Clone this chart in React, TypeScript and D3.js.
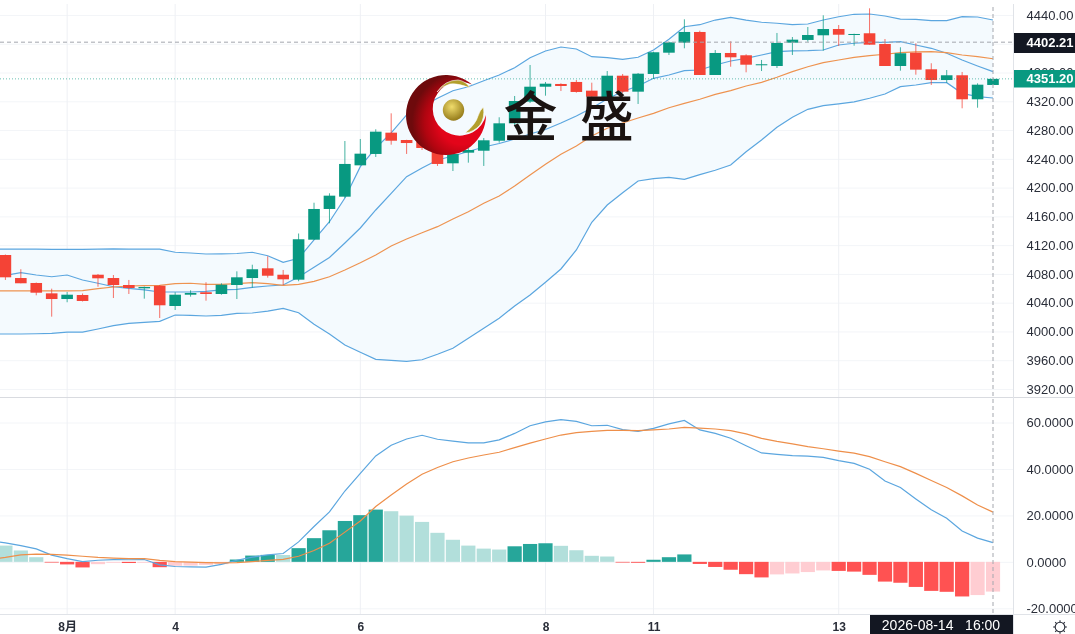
import { useEffect, useRef } from "react";
import * as d3 from "d3";

// first entry of every series is one bar left of the visible window
const opens = [4112,
  4106.3, 4074.3, 4067.4, 4053, 4045.1, 4050.7, 4078.9, 4074.3, 4064.6, 4060,
  4063.6, 4035.4, 4051.1, 4054.5, 4052.1, 4064.6, 4074.3, 4087.8, 4078.9, 4072,
  4127.6, 4170.3, 4187.4, 4231, 4246.8, 4276.4, 4266.2, 4263.4, 4251, 4233.8,
  4248.6, 4251.3, 4265.2, 4289.4, 4319.5, 4340.3, 4344.1, 4346.9, 4334.8, 4324.6,
  4355.6, 4333.4, 4358, 4387.6, 4401.5, 4416.4, 4356.6, 4387.2, 4384, 4370.1,
  4369.1, 4401.5, 4405.3, 4411.8, 4420.5, 4412.6, 4414.6, 4399.7, 4369.1, 4387.6,
  4364.5, 4349.6, 4356.2, 4322.8, 4342.7];
const closes = [4107,
  4075.3, 4067, 4053.9, 4045.1, 4051.1, 4042.4, 4073.9, 4064.6, 4060.4, 4061.8,
  4036.4, 4051.1, 4053.5, 4052.1, 4065, 4075.3, 4086.5, 4077.5, 4072.5, 4128.2,
  4170.3, 4188.8, 4232.9, 4247.2, 4277.8, 4265.2, 4262, 4255.1, 4232.9, 4246.8,
  4252.3, 4265.8, 4289.4, 4320.4, 4340.3, 4344.5, 4341.3, 4333, 4326.4, 4355.6,
  4333.4, 4358.4, 4388.2, 4402, 4416.4, 4356.6, 4387.2, 4381.2, 4370.9, 4371.5,
  4401.1, 4405.7, 4412.2, 4420.5, 4412.6, 4413.6, 4398.7, 4369.1, 4386.8, 4364,
  4349.6, 4356.2, 4322.8, 4343.1, 4351.2];
const highs = [4113,
  4107, 4086.5, 4068, 4059.5, 4054.9, 4052.8, 4079.9, 4078.5, 4071.6, 4062.5,
  4064.6, 4054.5, 4057.2, 4068.4, 4067, 4083.6, 4092.8, 4104.5, 4085.5, 4136.2,
  4179, 4192.1, 4264.8, 4267.6, 4281.1, 4303.3, 4266.5, 4269, 4252.3, 4252.3,
  4255.1, 4269, 4297.8, 4327.4, 4370.5, 4346.9, 4345, 4349.6, 4345.9, 4362.1,
  4358, 4359.4, 4389, 4402.9, 4434, 4418.2, 4391.3, 4403.4, 4385.4, 4377.5,
  4415, 4409.4, 4423.3, 4439.6, 4426.1, 4414, 4449.3, 4406.6, 4395.1, 4400.7,
  4372.9, 4363.5, 4360.8, 4345, 4351.2];
const lows = [4104,
  4071.6, 4067, 4050.3, 4020.6, 4040.6, 4041.7, 4062.2, 4046.5, 4052.1, 4045.6,
  4018.7, 4029.8, 4048.4, 4042.8, 4051.1, 4045.1, 4060.8, 4074.8, 4064.6, 4069.8,
  4127.6, 4150.4, 4185.6, 4231, 4242.6, 4259.7, 4246.8, 4252.3, 4230.1, 4223.1,
  4234.7, 4230.1, 4262.5, 4287.1, 4317.7, 4327.8, 4334.3, 4332, 4325.6, 4321.8,
  4331.6, 4316.3, 4351, 4384.4, 4393.7, 4356.6, 4356.6, 4368.1, 4360.3, 4362.1,
  4366.3, 4384.4, 4402.9, 4390.4, 4396.9, 4397.3, 4398.7, 4369.1, 4362.6, 4357,
  4342.7, 4345.9, 4310.3, 4311.1, 4342.7];

const bollUpper = [4114.6,
  4114.6, 4114.6, 4114.4, 4114.2, 4114.2, 4114.2, 4114.6, 4114.9, 4114.6, 4114.6,
  4114.6, 4110.1, 4109.1, 4107.7, 4108, 4108.4, 4110.1, 4105.3, 4096.2, 4101.7,
  4127.2, 4152.6, 4185.6, 4229.1, 4255.1, 4276, 4301, 4312.5, 4324.2, 4334.7,
  4340.3, 4348.6, 4356.6, 4366.7, 4380.6, 4390, 4395.5, 4392.7, 4382, 4380.6,
  4378.4, 4381.2, 4391.3, 4406.2, 4423.7, 4426.5, 4433, 4436.8, 4433, 4429.9,
  4428.5, 4426.5, 4427.5, 4433, 4437.6, 4441, 4441.4, 4438.6, 4434.4, 4434,
  4432.1, 4432.1, 4437.6, 4437.2, 4433];
const bollMid = [4075,
  4078.1, 4081.7, 4078.5, 4076.1, 4078.5, 4071.6, 4067, 4062.2, 4060, 4057.7,
  4054.9, 4054.9, 4054.9, 4055.8, 4057.7, 4058.6, 4061.4, 4063.2, 4064.6, 4075.7,
  4089.2, 4102.8, 4123, 4143.9, 4168.9, 4192.1, 4215.2, 4227.3, 4238.4, 4244,
  4250.2, 4256.5, 4261.3, 4267.6, 4274.6, 4280.8, 4289.8, 4299.6, 4310.7, 4323.2,
  4333.6, 4341.3, 4352, 4356.6, 4362.6, 4363.5, 4370.5, 4376, 4379.8, 4384.4,
  4389, 4390, 4390.4, 4391.3, 4398.3, 4400.7, 4402, 4402, 4402.9, 4398.3,
  4393.7, 4386.8, 4377.4, 4369.1, 4361.2];
const bollLower = [3996.5,
  3996.5, 3996.5, 3996.8, 3997.4, 3999.2, 3999.2, 4003.4, 4008, 4011.3, 4012.7,
  4014.1, 4022.9, 4022.5, 4021.5, 4022.5, 4025.2, 4025.7, 4028.4, 4032.2, 4026,
  4010, 3996.5, 3981.2, 3971, 3961.3, 3959.9, 3958.5, 3960.7, 3968.3, 3976.6,
  3990.5, 4004.4, 4018.3, 4035.4, 4050.7, 4068.4, 4086.9, 4113.3, 4151.8, 4175.8,
  4192.9, 4209.2, 4212.4, 4214.3, 4211.6, 4218, 4224.1, 4231.4, 4249.9, 4266.2,
  4283.9, 4297.8, 4308.9, 4313.9, 4316.3, 4319.1, 4324.2, 4330.2, 4340.3, 4342.7,
  4345.9, 4345.9, 4331.1, 4326.4, 4324.6];
const slowMa = [4056.3,
  4056.3, 4056.3, 4056.3, 4056.3, 4056.3, 4056.7, 4059.5, 4061.8, 4063.2, 4063.6,
  4064.2, 4066.4, 4067, 4065.6, 4065.6, 4066.4, 4067.8, 4066.4, 4064.2, 4065.6,
  4069.7, 4076.1, 4085.5, 4095.6, 4106.3, 4118.8, 4128.6, 4137.3, 4145.7, 4156.4,
  4166.5, 4178.2, 4188.3, 4202.2, 4217.5, 4232.4, 4246.3, 4257.9, 4271.8, 4282.5,
  4289.9, 4296.8, 4303.3, 4311.1, 4317.2, 4322.8, 4329.7, 4334.8, 4341.3, 4346.4,
  4353.4, 4361.2, 4368.1, 4373.7, 4377.4, 4381.2, 4383.4, 4385.4, 4387.6, 4388.6,
  4389, 4387.6, 4384.4, 4382, 4379.2];

const macdHist = [8.6,
  7, 4.9, 2, -0.3, -1.1, -2.4, -1, -0.4, -0.5, -0.4,
  -2.3, -1.7, -1.6, -1.3, -1, 1, 2.7, 3, 2.95, 5.9,
  10.2, 13.6, 17.6, 20.1, 22.5, 21.8, 19.9, 17.2, 12.5, 9.5,
  7, 5.7, 5.3, 6.7, 7.7, 8, 6.9, 5, 2.6, 2.3,
  -0.3, -0.4, 0.9, 2, 3.2, -0.9, -2.2, -3.4, -5.3, -6.7,
  -5.4, -5, -4.4, -3.7, -3.9, -4.2, -5.6, -8.5, -9, -10.8,
  -12.5, -12.9, -14.9, -14.3, -12.8];
const macdDif = [9,
  8.2, 7, 5.6, 2.9, 1.4, 0.1, 0.7, 1, 0.9, 1,
  -1.3, -2, -2.2, -2.3, -1.1, 0.7, 2, 3, 3.6, 8.6,
  15.2, 21.5, 30.5, 38.1, 45.6, 50.2, 52.9, 54.5, 52.8, 52,
  51.2, 51.2, 52.5, 55.3, 58.6, 60.3, 61.2, 60.5, 58.6, 58.8,
  56.9, 56.2, 57.5, 59.4, 60.9, 56.8, 55.3, 53.2, 50, 46.9,
  46.3, 45.7, 45.5, 45, 43.6, 42.4, 39.9, 34.8, 32, 27.1,
  22.4, 18.8, 13.3, 10.2, 8.3];
const macdDea = [1,
  1.9, 3, 3.3, 3.2, 2.9, 2.4, 1.9, 1.6, 1.4, 1.4,
  0.6, 0.1, -0.1, -0.3, -0.4, -0.3, 0.1, 0.6, 1.1, 2.4,
  4.9, 8, 12.8, 17.6, 23.8, 28.8, 33.5, 37.7, 40.6, 43.1,
  44.7, 46, 47.2, 49.2, 51.1, 52.9, 54.6, 55.6, 56.2, 56.6,
  56.6, 56.5, 56.8, 57.2, 57.9, 57.6, 57.2, 56.5, 55.1, 53.2,
  51.9, 50.8, 49.6, 48.7, 47.7, 46.8, 45.3, 43.1, 41, 38.1,
  35, 32, 28.4, 24.5, 21.4];

const priceTicks = [4440, 4400, 4360, 4320, 4280, 4240, 4200, 4160, 4120, 4080, 4040, 4000, 3960, 3920];
const macdTicks = [60, 40, 20, 0, -20];
const timeTickIndex = [5, 12, 24, 36, 43, 55];
const timeTickLabels = ["8月", "4", "6", "8", "11", "13"];
const lastPrice = 4351.2;
const cursorPrice = 4402.21;
const cursorIndex = 65;
const cursorTime = "2026-08-14   16:00";

const UP = "#089981";
const DOWN = "#f44336";
const AXIS_FONT = "'Liberation Sans', 'Noto Sans CJK SC', sans-serif";

export default function App() {
  const ref = useRef<SVGSVGElement>(null);

  useEffect(() => {
    const svg = d3.select(ref.current);
    svg.selectAll("*").remove();

    const axisX = 1013.5;
    const x = d3.scaleLinear().domain([0, 65]).range([-10.03, 993]);
    const y = d3.scaleLinear().domain([3920, 4440]).range([389, 15]);
    const m = d3.scaleLinear().domain([-20, 60]).range([608.3, 422.5]);
    const idx = d3.range(opens.length);

    const defs = svg.append("defs");
    const red = defs.append("radialGradient").attr("id", "logoRed")
      .attr("gradientUnits", "userSpaceOnUse")
      .attr("cx", 462).attr("cy", 122).attr("r", 50);
    red.append("stop").attr("offset", "0.45").attr("stop-color", "#e3051a");
    red.append("stop").attr("offset", "0.75").attr("stop-color", "#b00510");
    red.append("stop").attr("offset", "1").attr("stop-color", "#6e0a0c");
    const gold = defs.append("radialGradient").attr("id", "logoGold")
      .attr("cx", 0.42).attr("cy", 0.35).attr("r", 0.7);
    gold.append("stop").attr("offset", "0").attr("stop-color", "#f0dc6c");
    gold.append("stop").attr("offset", "1").attr("stop-color", "#8e7414");

    // grid
    const grid = svg.append("g");
    const hGrid = (ticks: number[], scale: d3.ScaleLinear<number, number>) =>
      grid.append("g")
        .attr("transform", `translate(${axisX},0)`)
        .call(d3.axisLeft(scale).tickValues(ticks).tickSize(axisX).tickFormat(() => ""))
        .call(g => g.select(".domain").remove())
        .attr("color", "#f3f5f8");
    hGrid(priceTicks, y);
    hGrid(macdTicks, m);
    timeTickIndex.forEach(i => {
      [[4, 397], [398, 614]].forEach(([a, b]) => {
        grid.append("line")
          .attr("x1", x(i)).attr("x2", x(i)).attr("y1", a).attr("y2", b)
          .attr("stroke", "#eef0f4");
      });
    });

    // bollinger band
    const area = d3.area<number>()
      .x(i => x(i))
      .y0(i => y(bollLower[i]))
      .y1(i => y(bollUpper[i]));
    svg.append("path").datum(idx).attr("d", area).attr("fill", "#f4fafe");

    const priceLine = (s: number[]) => d3.line<number>().x(i => x(i)).y(i => y(s[i]));
    const bandLines: [number[], string][] = [
      [bollUpper, "#5ba6df"], [bollMid, "#5ba6df"], [bollLower, "#5ba6df"], [slowMa, "#ee9350"],
    ];
    bandLines.forEach(([s, c]) => {
      svg.append("path").datum(idx).attr("d", priceLine(s))
        .attr("fill", "none").attr("stroke", c).attr("stroke-width", 1.2);
    });

    // candles
    const candles = svg.append("g").selectAll("g").data(idx).join("g");
    candles.append("line")
      .attr("x1", i => x(i)).attr("x2", i => x(i))
      .attr("y1", i => y(highs[i])).attr("y2", i => y(lows[i]))
      .attr("stroke", i => closes[i] >= opens[i] ? UP : DOWN)
      .attr("stroke-opacity", 0.75);
    candles.append("rect")
      .attr("x", i => x(i) - 5.8).attr("width", 11.6)
      .attr("y", i => y(Math.max(opens[i], closes[i])))
      .attr("height", i => Math.max(1, Math.abs(y(opens[i]) - y(closes[i]))))
      .attr("fill", i => closes[i] >= opens[i] ? UP : DOWN);

    // macd panel
    const barColor = (i: number) => {
      const v = macdHist[i];
      const prev = i > 0 ? macdHist[i - 1] : v;
      if (v >= 0) return v > prev ? "#26a69a" : "#b2dfdb";
      return v < prev ? "#ff5252" : "#ffcdd2";
    };
    svg.append("g").selectAll("rect").data(idx).join("rect")
      .attr("x", i => x(i) - 7.1).attr("width", 14.2)
      .attr("y", i => Math.min(m(0), m(macdHist[i])))
      .attr("height", i => Math.abs(m(0) - m(macdHist[i])))
      .attr("fill", barColor);
    const macdLine = (s: number[]) => d3.line<number>().x(i => x(i)).y(i => m(s[i]));
    svg.append("path").datum(idx).attr("d", macdLine(macdDif))
      .attr("fill", "none").attr("stroke", "#5ba6df").attr("stroke-width", 1.2);
    svg.append("path").datum(idx).attr("d", macdLine(macdDea))
      .attr("fill", "none").attr("stroke", "#ee8f4a").attr("stroke-width", 1.2);

    // panel and axis borders
    const border = "#e0e3e8";
    svg.append("line").attr("x1", 0).attr("x2", 1075).attr("y1", 397.5).attr("y2", 397.5).attr("stroke", "#d9dbe0");
    svg.append("line").attr("x1", 0).attr("x2", 1075).attr("y1", 614.5).attr("y2", 614.5).attr("stroke", border);
    svg.append("line").attr("x1", axisX).attr("x2", axisX).attr("y1", 4).attr("y2", 634).attr("stroke", border);

    // axes
    const styleAxis = (g: d3.Selection<SVGGElement, unknown, null, undefined>) => {
      g.select(".domain").remove();
      g.selectAll("text").attr("fill", "#2a2e39");
      g.attr("font-family", AXIS_FONT).attr("font-size", 13);
    };
    svg.append("g").attr("transform", `translate(${axisX},0)`)
      .call(d3.axisRight(y).tickValues(priceTicks).tickSize(0).tickPadding(13).tickFormat(d => (+d).toFixed(2)))
      .call(styleAxis as any);
    svg.append("g").attr("transform", `translate(${axisX},0)`)
      .call(d3.axisRight(m).tickValues(macdTicks).tickSize(0).tickPadding(13).tickFormat(d => (+d).toFixed(4)))
      .call(styleAxis as any);
    svg.append("g").attr("transform", "translate(0,614)")
      .call(d3.axisBottom(x).tickValues(timeTickIndex).tickSize(0).tickPadding(8)
        .tickFormat((_, i) => timeTickLabels[i]))
      .call(styleAxis as any)
      .selectAll("text").attr("font-weight", 700).attr("font-size", 12);

    // last price and cursor
    svg.append("line").attr("x1", 0).attr("x2", axisX).attr("y1", y(lastPrice)).attr("y2", y(lastPrice))
      .attr("stroke", UP).attr("stroke-opacity", 0.6).attr("stroke-dasharray", "1 2");
    const cursor = svg.append("g").attr("stroke", "#a4a7ae").attr("stroke-dasharray", "4 3");
    cursor.append("line").attr("x1", 0).attr("x2", axisX).attr("y1", y(cursorPrice)).attr("y2", y(cursorPrice));
    cursor.append("line").attr("x1", x(cursorIndex)).attr("x2", x(cursorIndex)).attr("y1", 7).attr("y2", 614);

    const tag = (val: number, fill: string, top: number, h: number) => {
      svg.append("rect").attr("x", axisX + 0.5).attr("width", 62).attr("y", top).attr("height", h).attr("fill", fill);
      svg.append("text").attr("x", axisX + 13).attr("y", y(val)).attr("dy", "0.35em")
        .attr("font-family", AXIS_FONT).attr("font-size", 13).attr("font-weight", 700)
        .attr("fill", "#fff").text(val.toFixed(2));
    };
    tag(cursorPrice, "#131722", 33, 20);
    tag(lastPrice, UP, 70, 17.5);

    svg.append("rect").attr("x", 870).attr("y", 615).attr("width", 143).attr("height", 19).attr("fill", "#131722");
    svg.append("text").attr("x", 941).attr("y", 630).attr("text-anchor", "middle")
      .attr("font-family", AXIS_FONT).attr("font-size", 14).attr("fill", "#fff")
      .style("white-space", "pre").text(cursorTime);

    // settings icon
    const gear = svg.append("g").attr("transform", "translate(1060,627)")
      .attr("fill", "none").attr("stroke", "#2a2e39").attr("stroke-width", 1.1);
    gear.append("circle").attr("r", 4.8);
    d3.range(8).forEach(k => {
      const a = k * Math.PI / 4;
      gear.append("line")
        .attr("x1", 4.8 * Math.cos(a)).attr("y1", 4.8 * Math.sin(a))
        .attr("x2", 6.8 * Math.cos(a)).attr("y2", 6.8 * Math.sin(a));
    });

    // watermark
    const logo = svg.append("g");
    logo.append("path")
      .attr("d", "M472,84.6 A40,40 0 1 0 486,115 A27,27 0 1 1 472,84.6 Z")
      .attr("fill", "url(#logoRed)");
    logo.append("circle").attr("cx", 453.5).attr("cy", 110).attr("r", 10.7).attr("fill", "url(#logoGold)");
    logo.append("path")
      .attr("d", "M437,92 Q445,80 458,80 Q466,81 470,88 Q458,83 450,84 Q442,86 437,92 Z")
      .attr("fill", "#b39f2c").attr("stroke", "#fff").attr("stroke-width", 0.6);
    logo.append("path")
      .attr("d", "M465,133 Q476,124 478,116 Q480,110 483.5,107 Q485,118 480,125 Q474,132 465,133 Z")
      .attr("fill", "#b39f2c").attr("stroke", "#fff").attr("stroke-width", 0.6);
    [["金", 530.5], ["盛", 606.7]].forEach(([t, px]) => {
      logo.append("text").attr("x", px as number).attr("y", 137).attr("text-anchor", "middle")
        .attr("font-family", "'Noto Sans CJK SC'").attr("font-size", 54).attr("font-weight", 500).attr("fill", "#1a1311")
        .text(t as string);
    });
  }, []);

  return (
    <svg
      ref={ref}
      width={1075}
      height={634}
      style={{ position: "absolute", left: 0, top: 0, background: "#fff", display: "block", filter: "blur(0.35px)" }}
    />
  );
}
